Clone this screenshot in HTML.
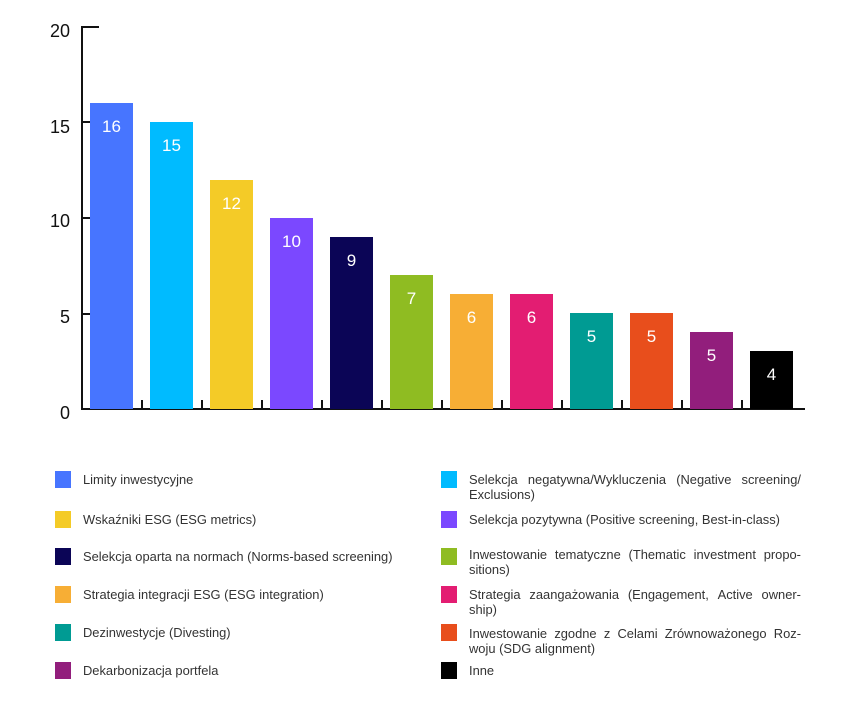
<!DOCTYPE html>
<html><head><meta charset="utf-8"><style>
body{margin:0;width:858px;height:705px;background:#fff;position:relative;font-family:"Liberation Sans",sans-serif;overflow:hidden}
.a{position:absolute}
.bar{position:absolute;width:43px;color:#fff;font-size:17px;text-align:center;padding-top:14px;box-sizing:border-box}
.yl{position:absolute;width:40px;right:788px;text-align:right;font-size:18px;color:#111}
.sq{position:absolute;width:16px;height:17px}
.lt{position:absolute;font-size:12.9px;color:#333;line-height:15px;white-space:nowrap}
.j{display:flex;justify-content:space-between;width:332px}
</style></head><body>
<div class="a" style="left:81px;top:26px;width:2px;height:384px;background:#111"></div>
<div class="a" style="left:81px;top:26px;width:18px;height:2px;background:#111"></div>
<div class="a" style="left:81px;top:408px;width:724px;height:2px;background:#111"></div>
<div class="a" style="left:81px;top:121px;width:9px;height:2px;background:#111"></div>
<div class="a" style="left:81px;top:217px;width:9px;height:2px;background:#111"></div>
<div class="a" style="left:81px;top:313px;width:9px;height:2px;background:#111"></div>
<div class="yl" style="top:21px">20</div>
<div class="yl" style="top:117px">15</div>
<div class="yl" style="top:211px">10</div>
<div class="yl" style="top:307px">5</div>
<div class="yl" style="top:403px">0</div>
<div class="bar" style="left:90px;top:103px;height:306px;background:#4775ff">16</div>
<div class="bar" style="left:150px;top:122px;height:287px;background:#00bbff">15</div>
<div class="bar" style="left:210px;top:180px;height:229px;background:#f4cb27">12</div>
<div class="bar" style="left:270px;top:218px;height:191px;background:#7b48ff">10</div>
<div class="bar" style="left:330px;top:237px;height:172px;background:#0b0556">9</div>
<div class="bar" style="left:390px;top:275px;height:134px;background:#8fbc22">7</div>
<div class="bar" style="left:450px;top:294px;height:115px;background:#f7ae35">6</div>
<div class="bar" style="left:510px;top:294px;height:115px;background:#e31d72">6</div>
<div class="bar" style="left:570px;top:313px;height:96px;background:#009b93">5</div>
<div class="bar" style="left:630px;top:313px;height:96px;background:#e84e1c">5</div>
<div class="bar" style="left:690px;top:332px;height:77px;background:#921e7c">5</div>
<div class="bar" style="left:750px;top:351px;height:58px;background:#000">4</div>
<div class="a" style="left:141px;top:400px;width:2px;height:9px;background:#111"></div>
<div class="a" style="left:201px;top:400px;width:2px;height:9px;background:#111"></div>
<div class="a" style="left:261px;top:400px;width:2px;height:9px;background:#111"></div>
<div class="a" style="left:321px;top:400px;width:2px;height:9px;background:#111"></div>
<div class="a" style="left:381px;top:400px;width:2px;height:9px;background:#111"></div>
<div class="a" style="left:441px;top:400px;width:2px;height:9px;background:#111"></div>
<div class="a" style="left:501px;top:400px;width:2px;height:9px;background:#111"></div>
<div class="a" style="left:561px;top:400px;width:2px;height:9px;background:#111"></div>
<div class="a" style="left:621px;top:400px;width:2px;height:9px;background:#111"></div>
<div class="a" style="left:681px;top:400px;width:2px;height:9px;background:#111"></div>
<div class="a" style="left:741px;top:400px;width:2px;height:9px;background:#111"></div>

<div class="sq" style="left:55px;top:471px;background:#4775ff"></div><div class="lt" style="left:83px;top:472px">Limity inwestycyjne</div>
<div class="sq" style="left:55px;top:511px;background:#f4cb27"></div><div class="lt" style="left:83px;top:512px">Wskaźniki ESG (ESG metrics)</div>
<div class="sq" style="left:55px;top:548px;background:#0b0556"></div><div class="lt" style="left:83px;top:549px">Selekcja oparta na normach (Norms-based screening)</div>
<div class="sq" style="left:55px;top:586px;background:#f7ae35"></div><div class="lt" style="left:83px;top:587px">Strategia integracji ESG (ESG integration)</div>
<div class="sq" style="left:55px;top:624px;background:#009b93"></div><div class="lt" style="left:83px;top:625px">Dezinwestycje (Divesting)</div>
<div class="sq" style="left:55px;top:662px;background:#921e7c"></div><div class="lt" style="left:83px;top:663px">Dekarbonizacja portfela</div>

<div class="sq" style="left:441px;top:471px;background:#00bbff"></div><div class="lt" style="left:469px;top:472px"><div class="j"><span>Selekcja</span><span>negatywna/Wykluczenia</span><span>(Negative</span><span>screening/</span></div>Exclusions)</div>
<div class="sq" style="left:441px;top:511px;background:#7b48ff"></div><div class="lt" style="left:469px;top:512px">Selekcja pozytywna (Positive screening, Best-in-class)</div>
<div class="sq" style="left:441px;top:548px;background:#8fbc22"></div><div class="lt" style="left:469px;top:547px"><div class="j"><span>Inwestowanie</span><span>tematyczne</span><span>(Thematic</span><span>investment</span><span>propo-</span></div>sitions)</div>
<div class="sq" style="left:441px;top:586px;background:#e31d72"></div><div class="lt" style="left:469px;top:587px"><div class="j"><span>Strategia</span><span>zaangażowania</span><span>(Engagement,</span><span>Active</span><span>owner-</span></div>ship)</div>
<div class="sq" style="left:441px;top:624px;background:#e84e1c"></div><div class="lt" style="left:469px;top:626px"><div class="j"><span>Inwestowanie</span><span>zgodne</span><span>z</span><span>Celami</span><span>Zrównoważonego</span><span>Roz-</span></div>woju (SDG alignment)</div>
<div class="sq" style="left:441px;top:662px;background:#000"></div><div class="lt" style="left:469px;top:663px">Inne</div>
</body></html>
